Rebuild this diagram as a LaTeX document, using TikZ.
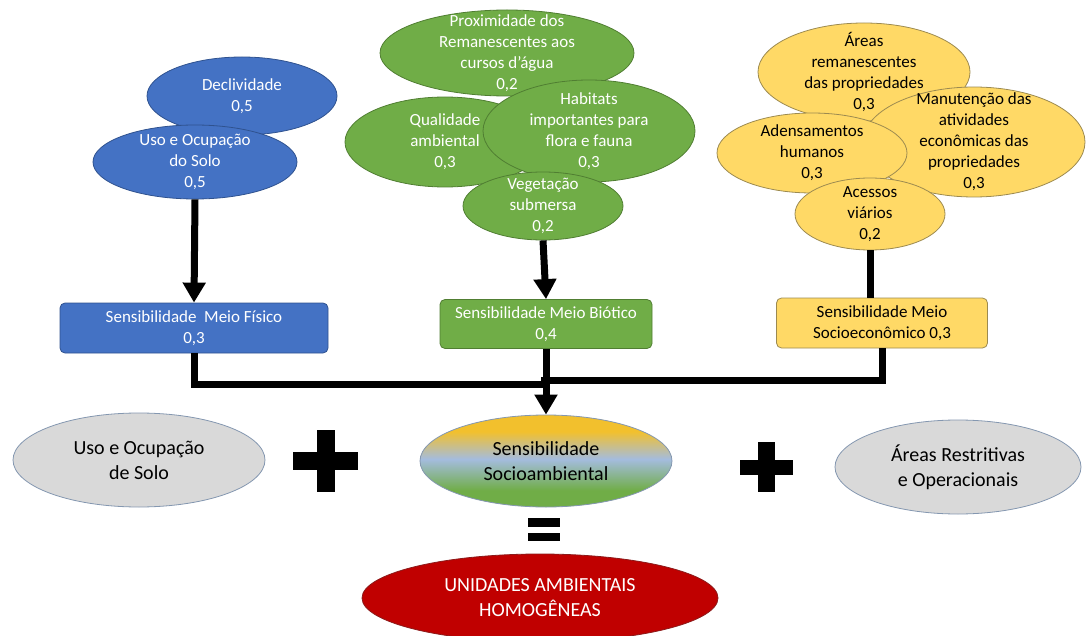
\documentclass[tikz,border=0pt]{standalone}
\usepackage{fontspec}
\setmainfont{Carlito}
\usepackage{tikz}
\usetikzlibrary{positioning,arrows.meta,shapes.geometric}
\definecolor{fisb}{HTML}{4472C4}
\definecolor{fisd}{HTML}{2F528F}
\definecolor{biob}{HTML}{70AD47}
\definecolor{biod}{HTML}{507E32}
\definecolor{socb}{HTML}{FFD966}
\definecolor{socd}{HTML}{9C8A50}
\definecolor{greyb}{HTML}{D9D9D9}
\definecolor{greyd}{HTML}{8497B0}
\definecolor{redb}{HTML}{C00000}
\definecolor{redd}{HTML}{8B1A1A}
\definecolor{skyb}{HTML}{A4BCDE}
\definecolor{goldb}{HTML}{F2C02D}
\pgfdeclareverticalshading{socioamb}{100bp}{color(0bp)=(biob); color(34bp)=(biob);
  color(51bp)=(skyb); color(66bp)=(goldb); color(100bp)=(goldb)}
\tikzset{
  sz/.style 2 args={minimum width=#1, minimum height=#2},
  bub/.style={ellipse, inner sep=0pt, line width=0.8pt},
  fisbub/.style={bub, fill=fisb, draw=fisd},
  biobub/.style={bub, fill=biob, draw=biod},
  socbub/.style={bub, fill=socb, draw=socd},
  wtxt/.style={font=\fontsize{17}{21}\selectfont, text=white, align=center},
  ktxt/.style={font=\fontsize{17}{21}\selectfont, text=black, align=center},
  sbox/.style={rectangle, rounded corners=5pt, line width=0.8pt, align=center,
               font=\fontsize{17}{21}\selectfont, inner sep=2pt},
  bigo/.style={ellipse, inner sep=0pt, line width=0.8pt, align=center,
               font=\fontsize{20}{25}\selectfont},
  lin/.style={line width=7pt, black},
  arr/.style={lin, -{Triangle[width=22pt,length=20pt]}},
}

\begin{document}
\begin{tikzpicture}[x=1pt, y=-1pt]
\useasboundingbox (0,0) rectangle (1086,636);

% meio fisico
\node[fisbub, sz={190}{78}, label={[wtxt]center:{Declividade\\0,5}}] (dec) at (242,96) {};
\node[fisbub, sz={204}{74}, label={[wtxt]center:{Uso e Ocupação\\do Solo\\0,5}}] (uso) at (195,162) {};

% meio biotico
\node[biobub, sz={254}{86}, label={[wtxt]center:{Proximidade dos\\Remanescentes aos\\cursos d’água\\0,2}}] (prox) at (507,53) {};
\node[biobub, sz={200}{90}, label={[wtxt]center:{Qualidade\\ambiental\\0,3}}] (qual) at (445,142) {};
\node[biobub, sz={212}{102}, label={[wtxt]center:{Habitats\\importantes para\\flora e fauna\\0,3}}] (hab) at (589,131) {};
\node[biobub, sz={160}{68}, label={[wtxt]center:{Vegetação\\submersa\\0,2}}] (veg) at (543,206) {};

% meio socioeconomico
\node[socbub, sz={212}{98}, label={[ktxt]center:{Áreas\\remanescentes\\das propriedades\\0,3}}] (are) at (864,72) {};
\node[socbub, sz={222}{110}, label={[ktxt]center:{Manutenção das\\atividades\\econômicas das\\propriedades\\0,3}}] (man) at (974,142) {};
\node[socbub, sz={190}{80}, label={[ktxt]center:{Adensamentos\\humanos\\0,3}}] (ade) at (812,153) {};
\node[socbub, sz={150}{72}, label={[ktxt]center:{Acessos\\viários\\0,2}}] (ace) at (870,214) {};

\node[sbox, sz={268}{50}, fill=fisb, draw=fisd, text=white] (fis) at (194,328) {Sensibilidade \ Meio Físico\\0,3};
\node[sbox, sz={212}{49}, fill=biob, draw=biod, text=white] (bio) at (546,324) {Sensibilidade Meio Biótico\\0,4};
\node[sbox, sz={211}{50}, fill=socb, draw=socd] (soc) at (882,323) {Sensibilidade Meio\\Socioeconômico 0,3};

\node[bigo, sz={252}{94}, fill=greyb, draw=greyd] (usolo) at (139,460) {Uso e Ocupação\\de Solo};
\node[bigo, sz={252}{92}, shading=socioamb, draw=greyd] (sa) at (546,461) {Sensibilidade\\Socioambiental};
\node[bigo, sz={246}{94}, fill=greyb, draw=greyd] (restr) at (958,467) {Áreas Restritivas\\e Operacionais};
\node[bigo, sz={356}{88}, fill=redb, draw=redd, text=white] (uah) at (540,598) {UNIDADES AMBIENTAIS\\HOMOGÊNEAS};

\coordinate (mfis) at (547,384);
\coordinate (msoc) at (541,380);

\draw[arr] (uso.south) -- (fis.north);
\draw[arr] (veg.south) -- (bio.north);
\draw[lin] (ace.south) -- (ace.south |- soc.north);
\draw[lin] (fis.south) |- (mfis);
\draw[lin] (soc.south) |- (msoc);
\draw[arr] (bio.south) -- (sa.north);

% plus and equals
\fill (293,452) rectangle (358,470);
\fill (317,430) rectangle (335,492);
\fill (740,460) rectangle (793,475);
\fill (758,442) rectangle (775,492);
\fill (528,518) rectangle (560,527);
\fill (528,533) rectangle (560,541);
\end{tikzpicture}
\end{document}
